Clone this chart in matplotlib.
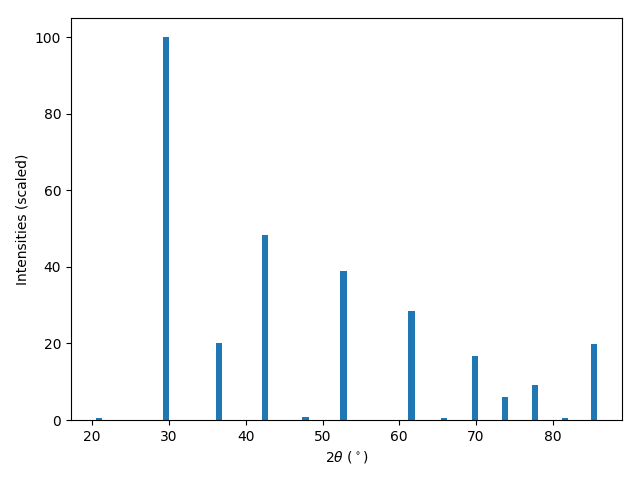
import numpy as np
import matplotlib
matplotlib.use('Agg')
import matplotlib.pyplot as plt

# peak positions (2theta, degrees) and scaled intensities
two_theta = [20.9, 29.65, 36.57, 42.48, 47.78, 52.74, 61.6, 65.87, 69.9, 73.8, 77.7, 81.56, 85.35]
intensity = [0.5, 100.0, 20.1, 48.4, 0.8, 39.0, 28.5, 0.4, 16.7, 6.0, 9.1, 0.5, 19.9]

fig = plt.figure(figsize=(6.4, 4.8))
plt.bar(two_theta, intensity)
plt.xlabel(r'$2\theta$ ($^\circ$)')
plt.ylabel('Intensities (scaled)')
plt.subplots_adjust(left=71/640, right=622/640, top=1-18/480, bottom=1-420/480)
plt.savefig('out.png', dpi=100)
